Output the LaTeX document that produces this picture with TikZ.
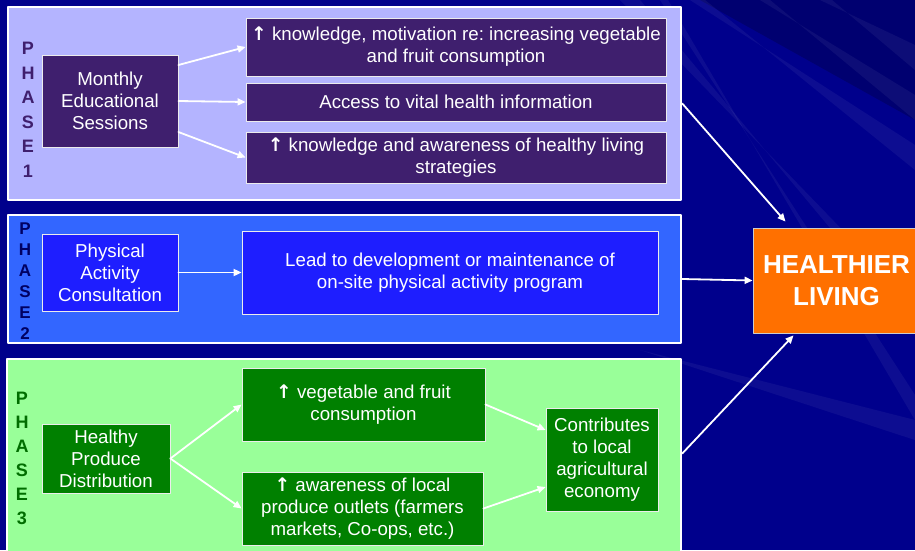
\documentclass[tikz,border=0pt]{standalone}
\usepackage{fontspec}
\setmainfont{Liberation Sans}
\newfontfamily\arrowfont{DejaVu Sans}
\usepackage{tikz}
\usetikzlibrary{arrows.meta}
\frenchspacing
\definecolor{navy}{RGB}{0,0,140}
\definecolor{lilac}{RGB}{180,180,255}
\definecolor{grape}{RGB}{63,31,110}
\definecolor{sky}{RGB}{51,102,255}
\definecolor{royal}{RGB}{30,30,255}
\definecolor{mint}{RGB}{153,255,153}
\definecolor{leaf}{RGB}{0,128,0}
\definecolor{tangerine}{RGB}{255,112,0}
\newcommand{\up}{{\arrowfont\bfseries ↑}}
\tikzstyle{panel} = [draw=white, line width=2.5pt, inner sep=0pt]
\tikzstyle{box} = [draw=white!85!gray, line width=0.8pt, inner sep=0pt, text=white, align=center, font=\fontsize{18.7}{22}\selectfont]
\tikzstyle{phase} = [inner sep=0pt, align=center, font=\bfseries\fontsize{18}{24.5}\selectfont]
\tikzstyle{arrow} = [-{Triangle[length=8pt,width=7pt]}, white, line width=1.8pt]

\begin{document}
\begin{tikzpicture}[x=1pt, y=-1pt, line cap=round, line join=round]
      \useasboundingbox (0,0) rectangle (915,550);
      \clip (0,0) rectangle (915,550);
      \fill[navy] (0,0) rectangle (915,550);
      \fill[black, opacity=0.2] (700,0) -- (915,0) -- (915,120) -- cycle;
      \foreach \a/\b/\c/\d in {690/705/915/170, 760/770/915/120, 620/640/915/330, 660/668/915/420, 820/832/915/70}
        \fill[white, opacity=0.05] (\a,0) -- (\b,0) -- (\c,\d) -- (\c,\d-25) -- cycle;
      \fill[white, opacity=0.05] (640,350) -- (915,420) -- (915,440) -- cycle;

      % phase 1
      \node[panel, fill=lilac, minimum width=673, minimum height=193] (p1panel) at (344.5,103.5) {};
      \node[phase, text=grape] (p1label) at (28,110) {P\\H\\A\\S\\E\\1};
      \node[box, fill=grape, minimum width=136, minimum height=92] (monthly) at (110,101) {Monthly\\Educational\\Sessions};
      \node[box, fill=grape, minimum width=420, minimum height=58] (knowA) at (456,47) {\up\ knowledge, motivation re: increasing vegetable\\and fruit consumption};
      \node[box, fill=grape, minimum width=420, minimum height=38] (access) at (456,102) {Access to vital health information};
      \node[box, fill=grape, minimum width=420, minimum height=51] (knowC) at (456,157.5) {\up\ knowledge and awareness of healthy living\\strategies};

      % phase 2
      \node[panel, fill=sky, minimum width=673, minimum height=128] (p2panel) at (344.5,279) {};
      \node[phase, text=navy!70!black, font=\bfseries\fontsize{17}{21}\selectfont] (p2label) at (25,281) {P\\H\\A\\S\\E\\2};
      \node[box, fill=royal, minimum width=136, minimum height=77] (physical) at (110,272.5) {Physical\\Activity\\Consultation};
      \node[box, fill=royal, minimum width=416, minimum height=83] (lead) at (450,272.5) {Lead to development or maintenance of\\on-site physical activity program};

      % phase 3
      \node[panel, fill=mint, minimum width=674, minimum height=201] (p3panel) at (344,459.5) {};
      \node[phase, text=leaf!85!black, font=\bfseries\fontsize{18}{24}\selectfont] (p3label) at (22,458) {P\\H\\A\\S\\E\\3};
      \node[box, fill=leaf, minimum width=128, minimum height=69] (healthy) at (106,458.5) {Healthy\\Produce\\Distribution};
      \node[box, fill=leaf, minimum width=243, minimum height=73] (veg) at (363.5,404.5) {\up\ vegetable and fruit\\consumption};
      \node[box, fill=leaf, minimum width=241, minimum height=73] (aware) at (362.5,508.5) {\up\ awareness of local\\produce outlets (farmers\\markets, Co-ops, etc.)};
      \node[box, fill=leaf, minimum width=112, minimum height=103] (contrib) at (602,459.5) {Contributes\\to local\\agricultural\\economy};

      \node[box, fill=tangerine, draw=gray!40!white, minimum width=167, minimum height=105, font=\bfseries\fontsize{26}{32}\selectfont] (healthier) at (836.5,280.5) {HEALTHIER\\LIVING};

      \draw[arrow] ([yshift=36pt]monthly.east) -- (knowA.west);
      \draw[arrow] (monthly.east) -- (access.west);
      \draw[arrow] ([yshift=-31pt]monthly.east) -- (knowC.west);
      \draw[arrow] (physical.east) -- (lead.west);
      \draw[arrow] (healthy.east) -- (veg.west);
      \draw[arrow] (healthy.east) -- (aware.west);
      \draw[arrow] (veg.east) -- ([yshift=29.5pt]contrib.west);
      \draw[arrow] (aware.east) -- ([yshift=-27.5pt]contrib.west);
      \draw[arrow] (p1panel.east) -- ([xshift=-51pt,yshift=6pt]healthier.north);
      \draw[arrow] (p2panel.east) -- (healthier.west);
      \draw[arrow] ([yshift=6pt]p3panel.east) -- ([xshift=-43pt,yshift=-2pt]healthier.south);
    \end{tikzpicture}
\end{document}
